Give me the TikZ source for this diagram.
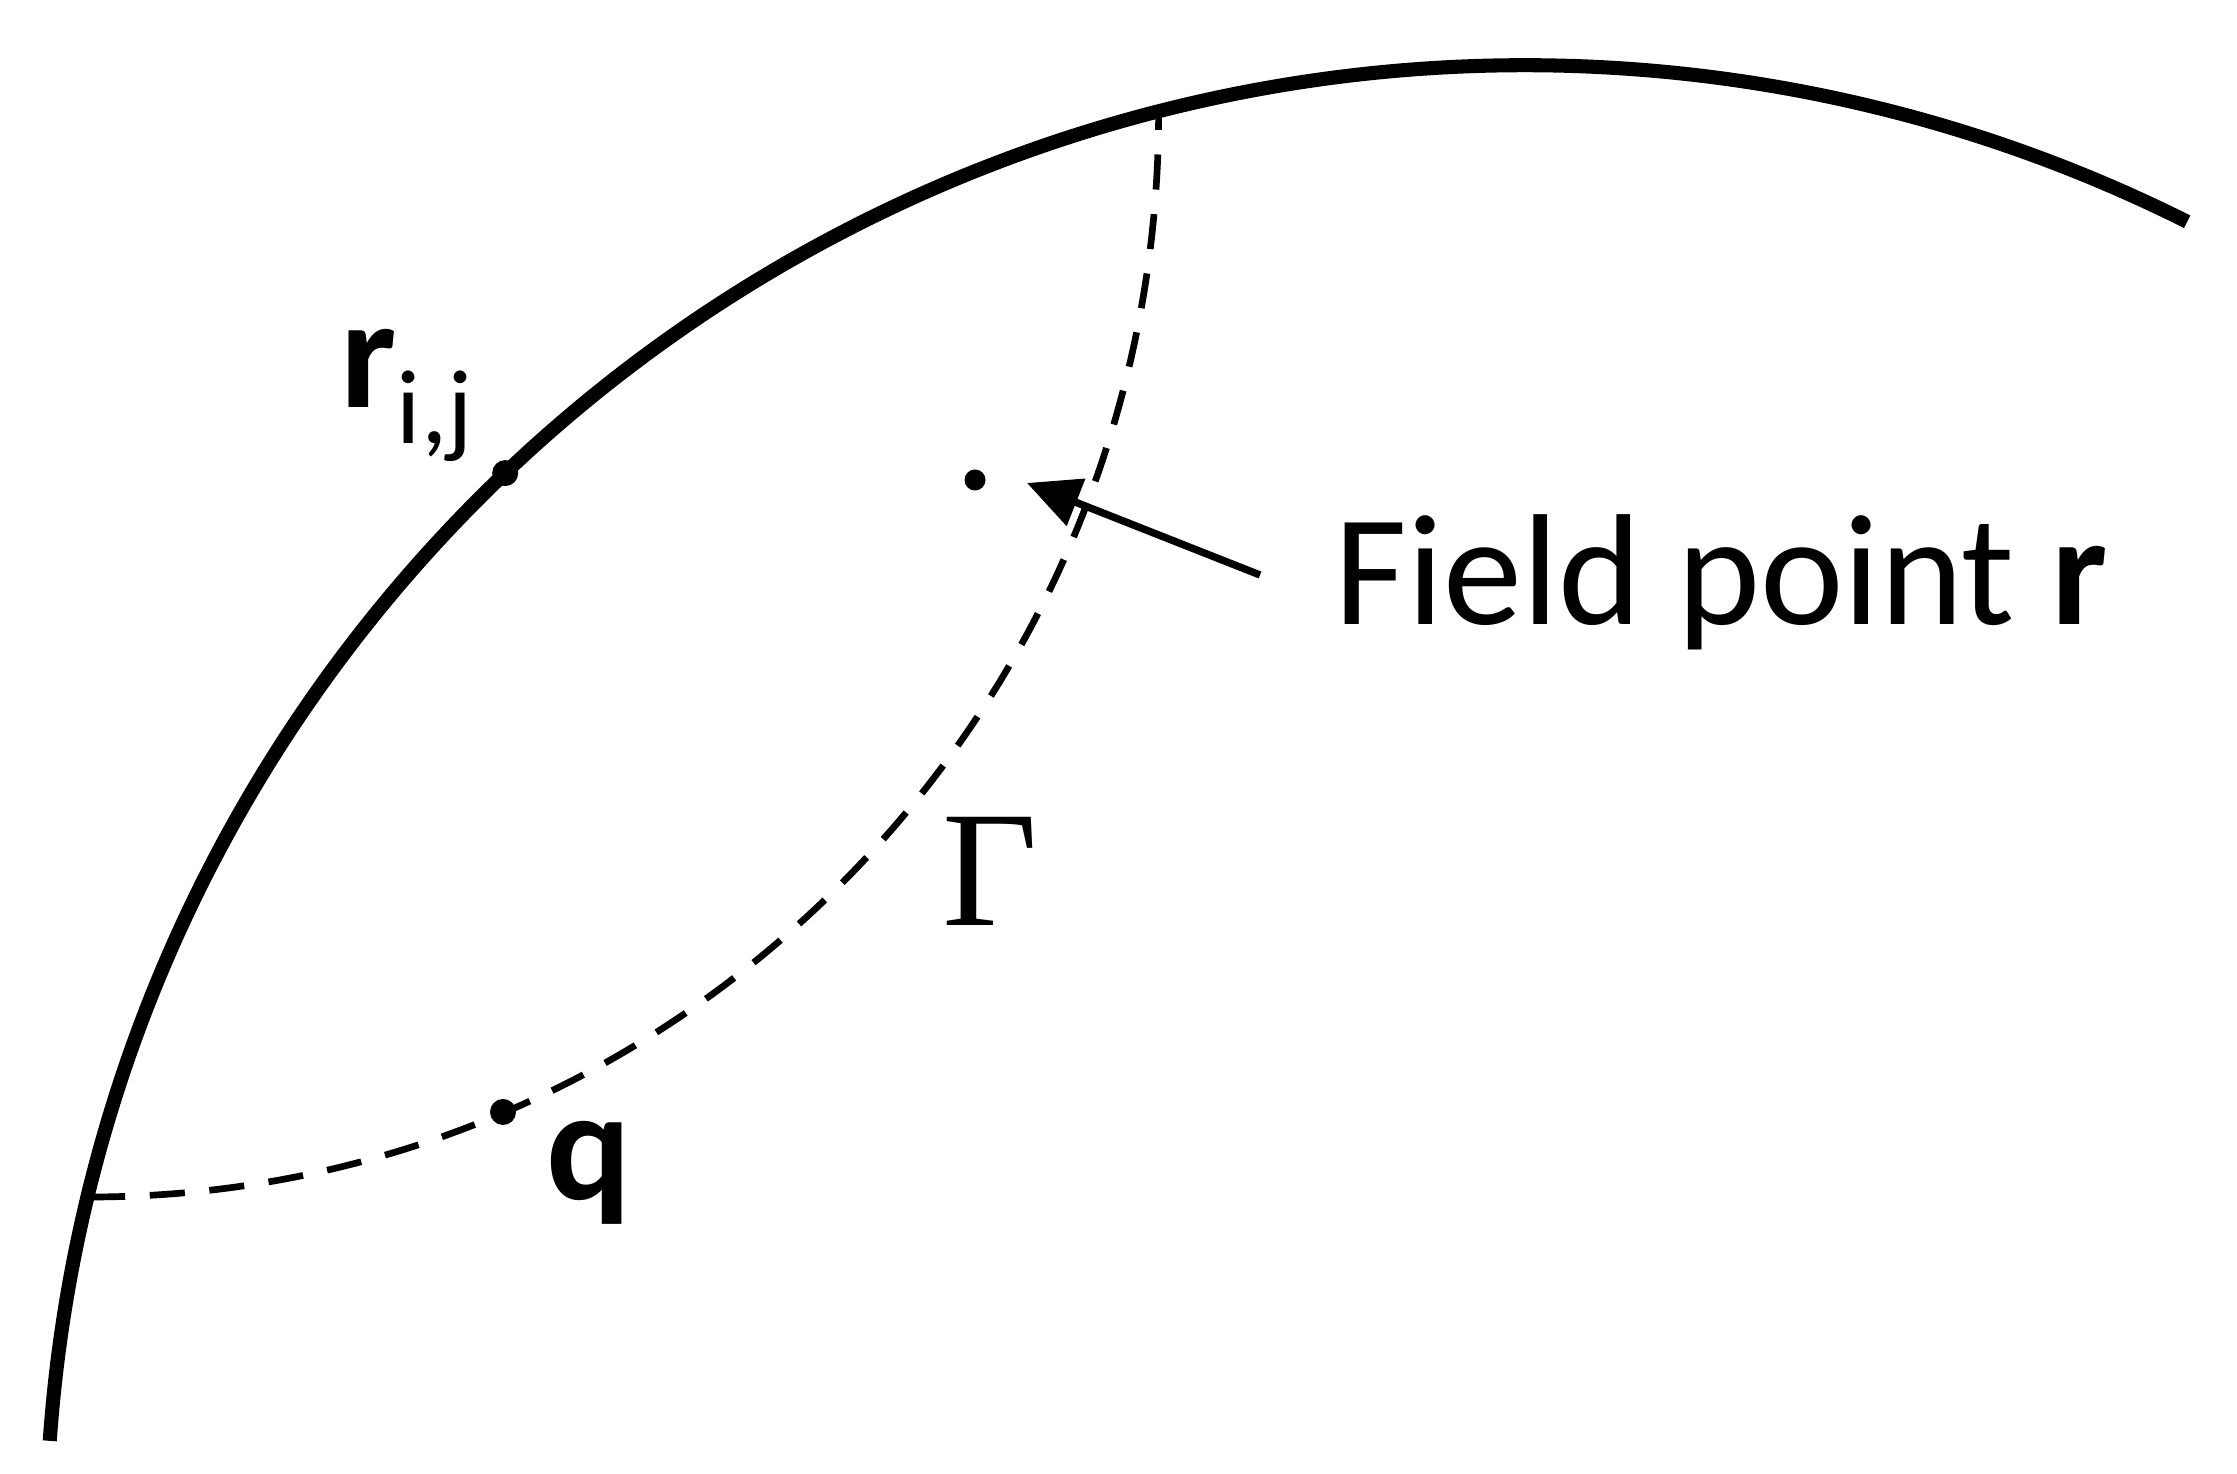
\documentclass[tikz,border=0pt]{standalone}
\usepackage{fontspec}
\setmainfont{Carlito}
\newfontfamily\serifgr{Liberation Serif}
\usetikzlibrary{arrows.meta,positioning,calc}
\tikzstyle{wall}=[line width=4pt]
\tikzstyle{gammapath}=[line width=1.9pt,dash pattern=on 10pt off 7pt]
\tikzstyle{spot}=[circle,fill,inner sep=0pt,minimum size=0.26cm]
\tikzstyle{lbl}=[inner sep=0pt,anchor=base west,font=\fontsize{45}{54}\selectfont]

\begin{document}
\begin{tikzpicture}[x=0.01cm,y=0.01cm]
    \useasboundingbox (0,0) rectangle (2237,1473);
    \coordinate (ctr) at (1525,-71);
    \draw [wall] (ctr) ++(176:14.78cm)
      arc[start angle=176, end angle=63.4, radius=14.78cm];
    \coordinate (lead) at (90,276);
    \draw [gammapath] (lead)
      arc[start angle=270, end angle=360, x radius=10.68cm, y radius=10.84cm];
    \node [spot] (rij) at ($(ctr)+(133.6:14.78cm)$) {};
    \node [spot] (q) at (503,361) {};
    \node [spot,minimum size=0.21cm] (r) at (975,993) {};
    \node [lbl] (rijlbl) at (340,1065)
      {\bfseries r\raisebox{-0.35cm}{\fontsize{30}{36}\selectfont\mdseries i,j}};
    \node [lbl] (qlbl) at (546,273) {\bfseries q};
    \node [inner sep=0pt] (gam) at (990,602) {\serifgr\fontsize{47}{56}\selectfont Γ};
    \node [lbl] (fplbl) at (1334,848) {Field point \textbf{r}};
    \coordinate (tail) at (1260,898);
    \coordinate (tip) at (1027,990);
    \draw [line width=2.1pt,-{Triangle[length=15pt,width=14pt]}] (tail) -- (tip);
\end{tikzpicture}
\end{document}
